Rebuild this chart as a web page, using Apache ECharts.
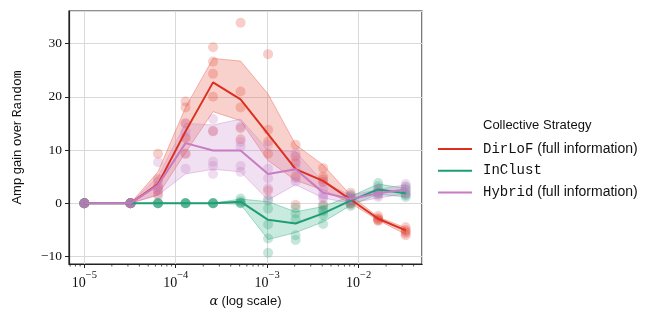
<!DOCTYPE html>
<html>
<head>
<meta charset="utf-8">
<script src="https://cdn.jsdelivr.net/npm/echarts@6/dist/echarts.min.js"></script>
<style>
    html, body { margin: 0; padding: 0; background: #fff; }
    #main { width: 664px; height: 322px; }
</style>
</head>
<body>
<div id="main"></div>
<script>
// alpha values (x) shared by all strategies
var alphas = [1e-5, 3.2e-5, 6.4e-5, 1.28e-4, 2.56e-4, 5.12e-4, 1.024e-3, 2.048e-3, 4.096e-3, 8.192e-3, 1.6384e-2, 3.2768e-2];

// DirLoF (full information)
var dirlofMean = [0, 0, 3.6, 13.5, 22.7, 19.5, 13.0, 6.4, 4.2, 0.7, -2.9, -5.1];
var dirlofLow = [0, 0, 1.6, 9.5, 17.2, 15.5, 8.0, 4.3, 2.5, 0, -3.2, -5.8];
var dirlofHigh = [0, 0, 5.9, 18.0, 27.2, 26.7, 20.5, 11.0, 7.2, 1.5, -2.6, -4.6];
var dirlofRuns = [
    [0, 0, 0, 0, 0], [0, 0, 0, 0, 0], [9.3, 4.5, 3.2, 2.4, 1.5], [19.1, 18, 15, 12.2, 9.3],
    [29.3, 26.6, 24.3, 20, 13.5], [33.9, 21, 18, 14.1, 12], [28, 13.8, 11.6, 9.3, 2.4],
    [11, 8.8, 7.5, 5, -0.3], [6.6, 5, 4.5, 4, -0.3], [2, 1.2, 0.5, 0, -0.2],
    [-2.4, -2.8, -3, -3.3, -3.2], [-4.5, -5, -5.3, -5.6, -6]
];

// InClust
var inclustMean = [0, 0, 0, 0, 0, 0.3, -3.1, -3.8, -1.9, 0.5, 2.6, 1.9];
var inclustLow = [0, 0, 0, 0, 0, -0.2, -6.8, -5.5, -3.5, -0.4, 1.7, 1.2];
var inclustHigh = [0, 0, 0, 0, 0, 0.8, 0.3, -1.6, -0.6, 1.3, 3.6, 2.8];
var inclustRuns = [
    [0, 0, 0, 0, 0], [0, 0, 0, 0, 0], [0, 0, 0, 0, 0], [0, 0, 0, 0, 0],
    [0, 0, 0, 0, 0], [0.9, 0.4, 0.1, 0, 0], [0.5, -1, -4, -6.6, -9.3],
    [-0.9, -1.9, -3, -6, -6.9], [-0.5, -1.2, -2.2, -3.9, -1.5], [1.5, 1, 0.5, 0, -0.5],
    [3.8, 3.2, 2.5, 2, 1.8], [3, 2.5, 1.8, 1.5, 1.2]
];

// Hybrid (full information)
var hybridMean = [0, 0, 3.4, 11.3, 9.9, 9.9, 5.5, 6.4, 2.0, 0.8, 1.9, 2.6];
var hybridLow = [0, 0, 1.5, 5.5, 6.4, 5.9, 0.6, 3.5, 1.0, 0, 1.0, 1.8];
var hybridHigh = [0, 0, 5.0, 15.0, 14.7, 15.8, 10.0, 9.7, 4.0, 1.5, 2.6, 3.5];
var hybridRuns = [
    [0, 0, 0, 0, 0], [0, 0, 0, 0, 0], [7.7, 4, 3, 2.5, 1.8], [15, 13.5, 12.5, 9.3, 6.5],
    [15.8, 13.6, 7.8, 7.0, 5.5], [14.4, 10.6, 7, 5.9, 11.5], [11, 6.5, 4.7, 2.8, 0.9],
    [9.4, 8, 6.5, 4.7, 4.1], [4, 2.6, 1.6, 0.9, 1.2], [1.5, 1, 0.5, 0.3, 0.8],
    [2.6, 2.0, 1.5, 1.2, 2.3], [3.6, 3.2, 2.6, 2.0, 1.8]
];

// minor ticks on the log axis
var minorTicks = [7e-6, 8e-6, 9e-6,
    2e-5, 3e-5, 4e-5, 5e-5, 6e-5, 7e-5, 8e-5, 9e-5,
    2e-4, 3e-4, 4e-4, 5e-4, 6e-4, 7e-4, 8e-4, 9e-4,
    2e-3, 3e-3, 4e-3, 5e-3, 6e-3, 7e-3, 8e-3, 9e-3,
    2e-2, 3e-2, 4e-2];

var X_MIN = 6.8e-6, X_MAX = 0.0494, Y_MIN = -11.4, Y_MAX = 36.1;

var strategies = [
    { name: 'DirLoF', color: '#dc2f1f', band: 'rgba(232,90,72,0.28)', edge: 'rgba(232,100,85,0.45)', dot: 'rgba(226,70,55,0.33)',
      mean: dirlofMean, low: dirlofLow, high: dirlofHigh, runs: dirlofRuns },
    { name: 'InClust', color: '#1f9e76', band: 'rgba(40,170,125,0.25)', edge: 'rgba(40,170,125,0.4)', dot: 'rgba(40,160,118,0.33)',
      mean: inclustMean, low: inclustLow, high: inclustHigh, runs: inclustRuns },
    { name: 'Hybrid', color: '#c77cc4', band: 'rgba(200,130,200,0.25)', edge: 'rgba(200,130,200,0.4)', dot: 'rgba(195,120,195,0.33)',
      mean: hybridMean, low: hybridLow, high: hybridHigh, runs: hybridRuns }
];

function pairs(ys) {
    return alphas.map(function (a, i) { return [a, ys[i]]; });
}

// whole band drawn as one polygon from the first item
function bandRenderer(fill, edge) {
    return function (params, api) {
        if (params.dataIndexInside !== 0) return null;
        var n = params.dataInsideLength, top = [], bottom = [];
        for (var j = 0; j < n; j++) {
            top.push(api.coord([api.value(0, j), api.value(2, j)]));
            bottom.unshift(api.coord([api.value(0, j), api.value(1, j)]));
        }
        return {
            type: 'polygon',
            shape: { points: top.concat(bottom) },
            style: { fill: fill, stroke: edge, lineWidth: 1 }
        };
    };
}

var series = [];
strategies.forEach(function (s) {
    series.push({
        name: s.name + ' band', type: 'custom', coordinateSystem: 'cartesian2d', silent: true, z: 1,
        data: alphas.map(function (a, i) { return [a, s.low[i], s.high[i]]; }),
        encode: { x: 0, y: [1, 2] },
        renderItem: bandRenderer(s.band, s.edge)
    });
    var pts = [];
    s.runs.forEach(function (vals, i) {
        vals.forEach(function (v) { pts.push([alphas[i], v]); });
    });
    series.push({
        name: s.name + ' runs', type: 'scatter', data: pts, symbolSize: 10, silent: true, z: 2,
        itemStyle: { color: s.dot }
    });
});
strategies.forEach(function (s) {
    series.push({
        name: s.name, type: 'line', data: pairs(s.mean), symbol: 'none', z: 3,
        color: s.color, lineStyle: { color: s.color, width: 2 }
    });
});
series.push({
    name: 'minor', type: 'custom', coordinateSystem: 'cartesian2d', silent: true, clip: false, z: 5,
    data: minorTicks.map(function (v) { return [v, Y_MIN]; }),
    renderItem: function (params, api) {
        var p = api.coord([api.value(0), api.value(1)]);
        return { type: 'line', shape: { x1: p[0], y1: p[1], x2: p[0], y2: p[1] + 2.5 },
                 style: { stroke: '#222', lineWidth: 0.8 } };
    }
});

var supMinus = { '-5': '\u22125', '-4': '\u22124', '-3': '\u22123', '-2': '\u22122' };

var chart = echarts.init(document.getElementById('main'));
chart.setOption({
    animation: false,
    title: {
        text: 'Collective Strategy', left: 483, top: 119, padding: 0,
        textStyle: { fontFamily: 'Liberation Sans', fontSize: 13, fontWeight: 'normal', color: '#111' }
    },
    legend: {
        data: [{ name: 'DirLoF', icon: 'rect' }, { name: 'InClust', icon: 'rect' }, { name: 'Hybrid', icon: 'rect' }],
        orient: 'vertical', left: 433, top: 137, itemWidth: 34, itemHeight: 2, itemGap: 7.7,
        selectedMode: false,
        formatter: function (name) {
            if (name === 'InClust') return '{m|InClust}';
            return '{m|' + name + '}{s| (full information)}';
        },
        textStyle: {
            padding: [0, 0, 0, 6],
            rich: {
                m: { fontFamily: 'Liberation Mono', fontSize: 14, color: '#111', lineHeight: 16 },
                s: { fontFamily: 'Liberation Sans', fontSize: 14, color: '#111', lineHeight: 16 }
            }
        }
    },
    grid: {
        left: 69, right: 242, top: 11, bottom: 58, show: true,
        borderColor: '#222', borderWidth: 1.2, backgroundColor: 'transparent'
    },
    xAxis: {
        type: 'log', logBase: 10, min: X_MIN, max: X_MAX,
        name: '{a|\u03b1} {t|(log scale)}', nameLocation: 'middle', nameGap: 30,
        nameTextStyle: {
            rich: {
                a: { fontFamily: 'DejaVu Serif', fontStyle: 'italic', fontSize: 13, color: '#111' },
                t: { fontFamily: 'Liberation Sans', fontSize: 13, color: '#111' }
            }
        },
        axisLine: { show: true, onZero: false, lineStyle: { color: '#222', width: 1.2 } },
        axisTick: { show: true, length: 4, lineStyle: { color: '#222' } },
        splitLine: { show: true, lineStyle: { color: '#d9d9d9', width: 1 } },
        axisLabel: {
            showMinLabel: false, showMaxLabel: false, margin: 6,
            formatter: function (v) {
                var e = Math.round(Math.log10(v));
                if (Math.abs(Math.log10(v) - e) > 1e-6) return '';
                return '{b|10}{s|' + (supMinus[e] || String(e)) + '}';
            },
            rich: {
                b: { fontFamily: 'Liberation Serif', fontSize: 14, color: '#111', lineHeight: 20, verticalAlign: 'bottom' },
                s: { fontFamily: 'Liberation Serif', fontSize: 10.5, color: '#111', lineHeight: 11, verticalAlign: 'top' }
            }
        }
    },
    yAxis: {
        type: 'value', min: Y_MIN, max: Y_MAX, splitNumber: 5,
        name: '{t|Amp gain over }{m|Random}', nameLocation: 'middle', nameGap: 45,
        nameTextStyle: {
            rich: {
                t: { fontFamily: 'Liberation Sans', fontSize: 13, color: '#111' },
                m: { fontFamily: 'Liberation Mono', fontSize: 13, color: '#111' }
            }
        },
        axisLine: { show: true, onZero: false, lineStyle: { color: '#222', width: 1.2 } },
        axisTick: { show: true, length: 4, lineStyle: { color: '#222' } },
        splitLine: { show: true, lineStyle: { color: '#d9d9d9', width: 1 } },
        axisLabel: {
            showMinLabel: false, showMaxLabel: false, margin: 7,
            fontFamily: 'Liberation Serif', fontSize: 13.5, color: '#111',
            formatter: function (v) { return v < 0 ? '\u2212' + Math.abs(v) : String(v); }
        }
    },
    series: series
});
</script>
</body>
</html>
